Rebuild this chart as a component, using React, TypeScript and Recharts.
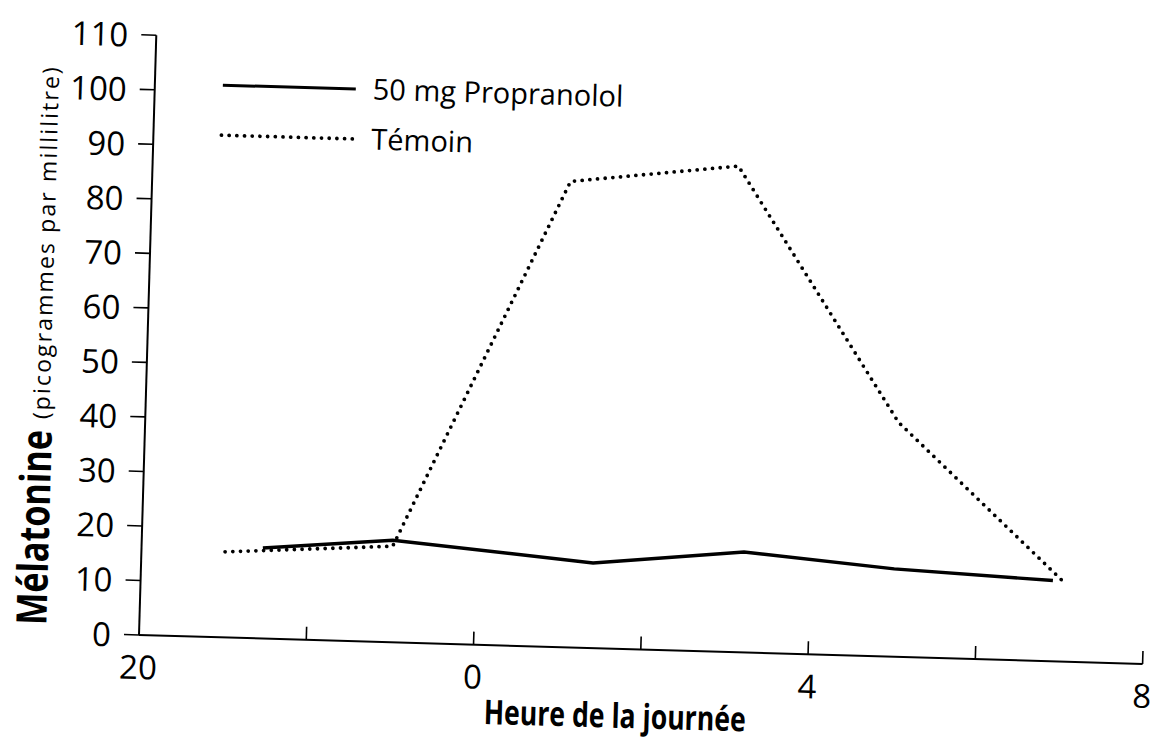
import React from "react";
import { LineChart, Line, XAxis, YAxis, Legend } from "recharts";

// hours are counted past midnight as 24+ (25 = 1 h du matin)
const temoinHours = [21, 23, 25, 27, 29, 31];
const temoinValues = [15.7, 17.6, 85.4, 89.1, 43, 15];
const propHours = [21.45, 23, 25.4, 27.2, 29, 30.9];
const propValues = [16.6, 18.7, 15.6, 18.4, 16.1, 14.8];

const hourTicks = [20, 22, 24, 26, 28, 30, 32];
const hourLabels: Record<number, string> = { 20: "20", 24: "0", 28: "4", 32: "8" };
const valueTicks = [0, 10, 20, 30, 40, 50, 60, 70, 80, 90, 100, 110];

const series = [
  { name: "50 mg Propranolol", dotted: false },
  { name: "Témoin", dotted: true },
];

const temoinData = temoinHours.map((h, i) => ({ hour: h, value: temoinValues[i] }));
const propData = propHours.map((h, i) => ({ hour: h, value: propValues[i] }));

const FONT = "'Open Sans', 'Noto Sans', sans-serif";
const TILT = 1.65; // the scan is slightly turned

const HourTick = ({ x, y, payload }: any) => {
  const label = hourLabels[payload.value];
  return (
    <g>
      {payload.value !== 20 && (
        <line x1={x} y1={y} x2={x} y2={y - 13} stroke="#000" strokeWidth={1.6} />
      )}
      {label && (
        <text x={x} y={y + 44} textAnchor="middle" fontSize={33} fontFamily={FONT} fill="#000">
          {label}
        </text>
      )}
    </g>
  );
};

const ValueTick = ({ x, y, payload }: any) => (
  <text x={x} y={y} dy={12} textAnchor="end" fontSize={33} fontFamily={FONT} fill="#000">
    {payload.value}
  </text>
);

const YTitle = ({ viewBox }: any) => {
  const bottom = viewBox.y + viewBox.height;
  return (
    <g fill="#000" fontFamily={FONT}>
      <text
        transform={`translate(46 ${bottom - 7}) rotate(-90)`}
        fontSize={42}
        fontWeight={700}
        textLength={195}
        lengthAdjust="spacingAndGlyphs"
      >
        Mélatonine
      </text>
      <text
        transform={`translate(43 ${bottom - 213}) rotate(-90)`}
        fontSize={23}
        textLength={352}
        lengthAdjust="spacing"
      >
        (picogrammes par millilitre)
      </text>
    </g>
  );
};

const XTitle = ({ viewBox }: any) => {
  const cx = viewBox.x + viewBox.width * 0.476;
  return (
    <text
      x={cx - 131}
      y={viewBox.y + 79}
      fontSize={34}
      fontWeight={700}
      fontFamily={FONT}
      fill="#000"
      textLength={262}
      lengthAdjust="spacingAndGlyphs"
    >
      Heure de la journée
    </text>
  );
};

const LegendBox = () => (
  <svg width={480} height={110}>
    {series.map((s, i) => (
      <g key={s.name}>
        <line
          x1={12}
          y1={28 + i * 50}
          x2={145}
          y2={28 + i * 50}
          stroke="#000"
          strokeWidth={s.dotted ? 3.8 : 3}
          strokeDasharray={s.dotted ? "0 7.7" : undefined}
          strokeLinecap={s.dotted ? "round" : "butt"}
        />
        <text x={162} y={38 + i * 50} fontSize={29} fontFamily={FONT} fill="#000">
          {s.name}
        </text>
      </g>
    ))}
  </svg>
);

export default function App() {
  return (
    <div style={{ position: "absolute", left: 0, top: 0, width: 1157, height: 746, overflow: "hidden", background: "#fff" }}>
      <div style={{ transform: `rotate(${TILT}deg)`, transformOrigin: "139px 635px", width: 1157, height: 746 }}>
        <LineChart width={1157} height={746} margin={{ top: 35, right: 14, bottom: 0, left: 0 }}>
          <XAxis
            type="number"
            dataKey="hour"
            domain={[20, 32]}
            ticks={hourTicks}
            allowDataOverflow
            height={111}
            tickLine={false}
            tickSize={0}
            tickMargin={0}
            tick={<HourTick />}
            axisLine={{ stroke: "#000", strokeWidth: 2 }}
            label={{ content: <XTitle /> }}
          />
          <YAxis
            type="number"
            domain={[0, 110]}
            ticks={valueTicks}
            width={139}
            tickSize={15}
            tickMargin={13}
            tickLine={{ stroke: "#000", strokeWidth: 1.6 }}
            tick={<ValueTick />}
            axisLine={{ stroke: "#000", strokeWidth: 2 }}
            label={{ content: <YTitle /> }}
          />
          <Legend
            layout="horizontal"
            verticalAlign="middle"
            align="center"
            content={<LegendBox />}
            wrapperStyle={{ left: 195, top: 55, width: 480 }}
          />
          <Line
            data={propData}
            dataKey="value"
            name={series[0].name}
            stroke="#000"
            strokeWidth={3.4}
            dot={false}
            isAnimationActive={false}
          />
          <Line
            data={temoinData}
            dataKey="value"
            name={series[1].name}
            stroke="#000"
            strokeWidth={3.8}
            strokeDasharray="0 7.7"
            strokeLinecap="round"
            dot={false}
            isAnimationActive={false}
          />
        </LineChart>
      </div>
    </div>
  );
}
